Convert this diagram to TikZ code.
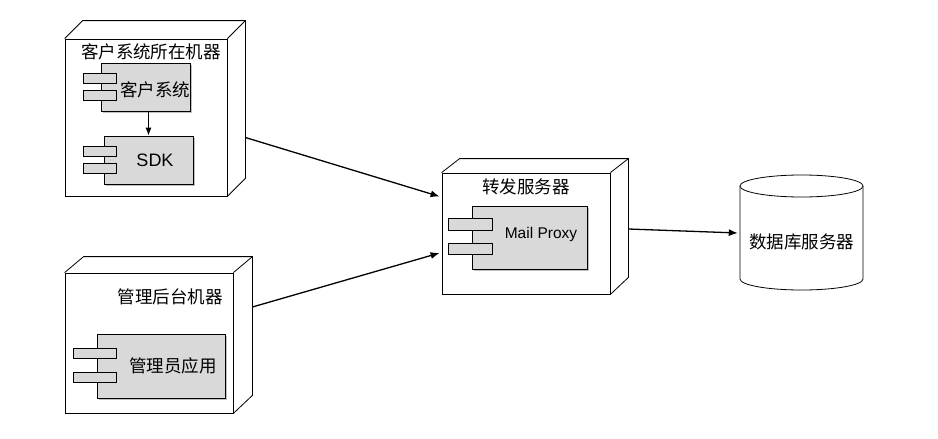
\documentclass[tikz,border=0pt]{standalone}
\usepackage{fontspec}
\setmainfont{Liberation Sans}
\newfontfamily\cjk{Noto Sans CJK SC}
\usetikzlibrary{arrows.meta,shadows,calc}
\begin{document}
\begin{tikzpicture}[x=1pt,y=-1pt,
  face/.style={draw,line width=0.8pt,fill=white,minimum width=#1,inner sep=0pt},
  comp/.style={draw,line width=0.7pt,fill=compgray,inner sep=0pt,
    drop shadow={shadow xshift=2pt,shadow yshift=-2pt,opacity=0.25,fill=black}},
  tab/.style={draw,line width=0.7pt,fill=compgray,inner sep=0pt,minimum height=10pt},
  cjklabel/.style={font=\cjk\fontsize{17.5}{20}\selectfont,inner sep=0pt},
  arr/.style={line width=1.3pt,-{Latex[length=9pt,width=7pt]}}]
\definecolor{compgray}{HTML}{D9D9D9}
\useasboundingbox[fill=white] (0,0) rectangle (938,439);
% node 1
\node[face=162pt,minimum height=157pt] (n1) at (146,117.5) {};
\draw[line width=0.8pt] (n1.north west) -- ++(18,-18) -- ($(n1.north east)+(18,-18)$) -- ($(n1.south east)+(18,-18)$) -- (n1.south east);
\draw[line width=0.8pt] (n1.north east) -- ++(18,-18);
\node[cjklabel] (l1) at (151,52) {客户系统所在机器};
\node[comp,minimum width=89pt,minimum height=48pt] (c1) at (145.5,87) {};
\node[tab,minimum width=33pt] (t11) at (99.5,78) {};
\node[tab,minimum width=33pt] (t12) at (99.5,95) {};
\node[cjklabel] (c1l) at (155,90) {客户系统};
\node[comp,minimum width=89pt,minimum height=48pt] (c2) at (148.5,160) {};
\node[tab,minimum width=33pt] (t21) at (99.5,151) {};
\node[tab,minimum width=33pt] (t22) at (99.5,168.5) {};
\node[font=\fontsize{18}{20}\selectfont,inner sep=0pt] (c2l) at (155,160) {SDK};
\draw[line width=1pt,-{Latex[length=8pt,width=6pt]}] (c1.south -| c2.north) -- (c2.north);
% node 2
\node[face=168pt,minimum height=140pt] (n2) at (149,343) {};
\draw[line width=0.8pt] (n2.north west) -- ++(19,-16) -- ($(n2.north east)+(19,-16)$) -- ($(n2.south east)+(19,-18)$) -- (n2.south east);
\draw[line width=0.8pt] (n2.north east) -- ++(19,-16);
\node[cjklabel] (l2) at (170,297) {管理后台机器};
\node[comp,minimum width=128pt,minimum height=64pt] (c3) at (161,366) {};
\node[tab,minimum width=43pt] (t31) at (94.5,353) {};
\node[tab,minimum width=43pt] (t32) at (94.5,377.5) {};
\node[cjklabel] (c3l) at (173,366) {管理员应用};
% node 3
\node[face=168pt,minimum height=121pt] (n3) at (526,233.5) {};
\draw[line width=0.8pt] (n3.north west) -- ++(18,-14) -- ($(n3.north east)+(18,-14)$) -- ($(n3.south east)+(18,-17)$) -- (n3.south east);
\draw[line width=0.8pt] (n3.north east) -- ++(18,-14);
\node[cjklabel] (l3) at (526,187) {转发服务器};
\node[comp,minimum width=115pt,minimum height=63pt] (c4) at (529.5,237.5) {};
\node[tab,minimum width=44pt,minimum height=12pt] (t41) at (470,224) {};
\node[tab,minimum width=44pt,minimum height=11pt] (t42) at (470,248.5) {};
\node[font=\fontsize{15.5}{18}\selectfont,inner sep=0pt] (c4l) at (541,234) {Mail Proxy};
% database
\node[minimum width=123pt,minimum height=115pt,inner sep=0pt] (db) at (801.5,232.5) {};
\draw[line width=0.8pt,fill=white] (740,186) -- (740,279) arc[start angle=180,end angle=360,x radius=61.5pt,y radius=11pt] -- (863,186);
\draw[line width=0.8pt,fill=white] (801.5,186) ellipse[x radius=61.5pt,y radius=11pt];
\node[cjklabel] (dbl) at (801.5,242) {数据库服务器};
% connectors
\draw[arr] ($(n1.east)+(18,20)$) -- ($(n3.west)+(-2,-37)$);
\draw[arr] ($(n2.east)+(19,-36)$) -- ($(n3.west)+(-2,19.5)$);
\draw[arr] ($(n3.east)+(18,-4.5)$) -- ($(db.west)+(-2,0.5)$);
\end{tikzpicture}
\end{document}
